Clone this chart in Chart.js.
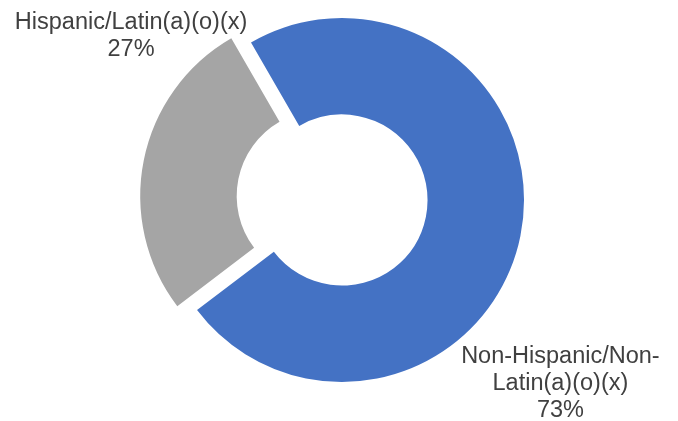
<!DOCTYPE html>
<html>
<head>
<meta charset="utf-8">
<title>Hispanic / Non-Hispanic</title>
<script src="https://cdn.jsdelivr.net/npm/chart.js@4/dist/chart.umd.min.js"></script>
<style>
  html, body { margin: 0; padding: 0; background: #fff; }
  #wrap { width: 678px; height: 421px; }
</style>
</head>
<body>
<div id="wrap"><canvas id="ethnicityChart" width="678" height="421"></canvas></div>
<script>
const categories = ["Non-Hispanic/Non-Latin(a)(o)(x)", "Hispanic/Latin(a)(o)(x)"];
const shares = [73, 27];
const labelLines = [
  ["Non-Hispanic/Non-", "Latin(a)(o)(x)", "73%"],
  ["Hispanic/Latin(a)(o)(x)", "27%"]
];

// label block anchors, as multiples of the outer radius from the ring centre
const labelAnchors = [
  { fx: 1.20, fy: 0.896 },
  { fx: -1.159, fy: -0.94 }
];

const outsideLabels = {
  id: "outsideLabels",
  afterDatasetsDraw(chart) {
    const ctx = chart.ctx;
    const arcs = chart.getDatasetMeta(0).data;
    ctx.save();
    ctx.font = "23.5px 'Liberation Sans', Arial, sans-serif";
    ctx.fillStyle = "#404040";
    ctx.textAlign = "center";
    ctx.textBaseline = "alphabetic";
    arcs.forEach((arc, i) => {
      const a = labelAnchors[i];
      const x = arc.x + a.fx * arc.outerRadius;
      let y = arc.y + a.fy * arc.outerRadius;
      labelLines[i].forEach(line => {
        ctx.fillText(line, x, y);
        y += 27;
      });
    });
    ctx.restore();
  }
};

new Chart(document.getElementById("ethnicityChart").getContext("2d"), {
  type: "doughnut",
  data: {
    labels: categories,
    datasets: [{
      data: shares,
      backgroundColor: ["#4472C4", "#A5A5A5"],
      borderWidth: 0,
      offset: [0, 80]
    }]
  },
  options: {
    responsive: false,
    animation: false,
    rotation: -30,
    radius: 182,
    cutout: "47%",
    layout: { padding: { left: 6, right: 0, top: 0, bottom: 21 } },
    plugins: {
      legend: { display: false },
      tooltip: { enabled: false }
    }
  },
  plugins: [outsideLabels]
});
</script>
</body>
</html>
